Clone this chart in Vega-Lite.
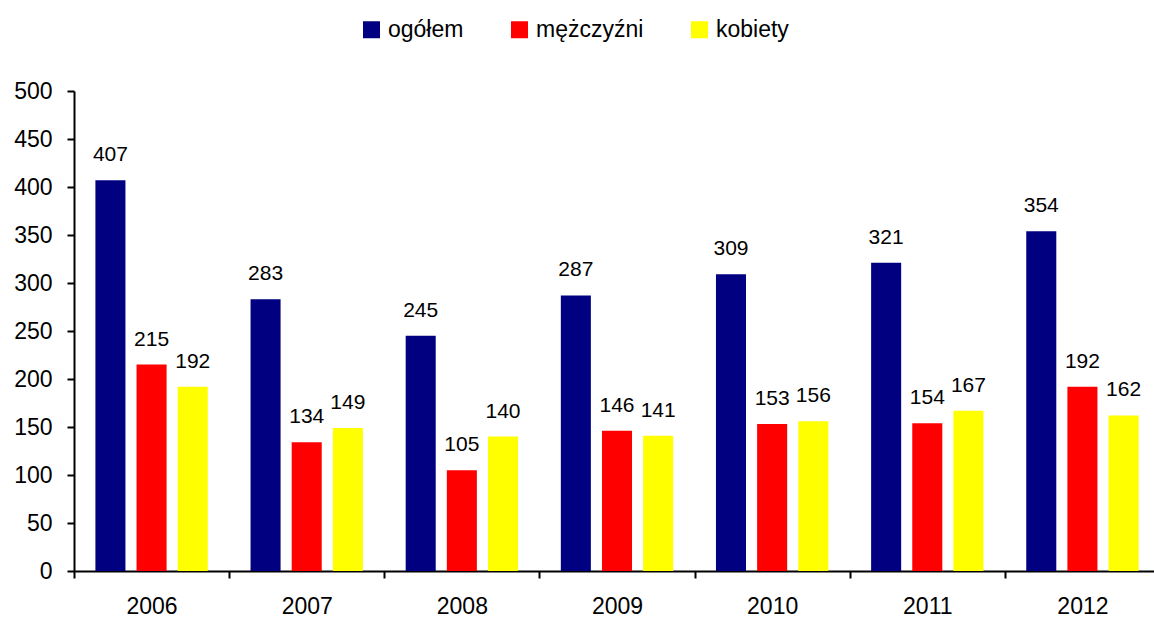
{
  "$schema": "https://vega.github.io/schema/vega-lite/v6.json",
  "width": 1086,
  "height": 480,
  "autosize": {"type": "none"},
  "padding": {"left": 74, "top": 91, "right": -6, "bottom": 48},
  "background": "white",
  "config": {
    "view": {"stroke": null},
    "font": "Liberation Sans",
    "axis": {"labelFont": "Liberation Sans", "labelColor": "black", "domainColor": "black", "tickColor": "black", "domainWidth": 2, "tickWidth": 2, "grid": false, "title": null}
  },
  "data": {
    "values": [
      {"rok": "2006", "grupa": "ogółem", "wartosc": 407},
      {"rok": "2006", "grupa": "mężczyźni", "wartosc": 215},
      {"rok": "2006", "grupa": "kobiety", "wartosc": 192},
      {"rok": "2007", "grupa": "ogółem", "wartosc": 283},
      {"rok": "2007", "grupa": "mężczyźni", "wartosc": 134},
      {"rok": "2007", "grupa": "kobiety", "wartosc": 149},
      {"rok": "2008", "grupa": "ogółem", "wartosc": 245},
      {"rok": "2008", "grupa": "mężczyźni", "wartosc": 105},
      {"rok": "2008", "grupa": "kobiety", "wartosc": 140},
      {"rok": "2009", "grupa": "ogółem", "wartosc": 287},
      {"rok": "2009", "grupa": "mężczyźni", "wartosc": 146},
      {"rok": "2009", "grupa": "kobiety", "wartosc": 141},
      {"rok": "2010", "grupa": "ogółem", "wartosc": 309},
      {"rok": "2010", "grupa": "mężczyźni", "wartosc": 153},
      {"rok": "2010", "grupa": "kobiety", "wartosc": 156},
      {"rok": "2011", "grupa": "ogółem", "wartosc": 321},
      {"rok": "2011", "grupa": "mężczyźni", "wartosc": 154},
      {"rok": "2011", "grupa": "kobiety", "wartosc": 167},
      {"rok": "2012", "grupa": "ogółem", "wartosc": 354},
      {"rok": "2012", "grupa": "mężczyźni", "wartosc": 192},
      {"rok": "2012", "grupa": "kobiety", "wartosc": 162}
    ]
  },
  "encoding": {
    "x": {
      "field": "rok", "type": "nominal",
      "scale": {"paddingInner": 0, "paddingOuter": 0},
      "axis": {"labelAngle": 0, "labelFontSize": 23, "tickSize": 7, "tickBand": "extent", "labelPadding": 17}
    },
    "xOffset": {
      "field": "grupa", "type": "nominal",
      "sort": ["ogółem", "mężczyźni", "kobiety"],
      "scale": {"paddingInner": 0.27, "paddingOuter": 0.52}
    },
    "y": {
      "field": "wartosc", "type": "quantitative",
      "scale": {"domain": [0, 500], "nice": false},
      "axis": {"values": [0, 50, 100, 150, 200, 250, 300, 350, 400, 450, 500], "labelFontSize": 23, "tickSize": 7, "labelPadding": 15}
    }
  },
  "layer": [
    {
      "mark": {"type": "bar"},
      "encoding": {
        "color": {
          "field": "grupa", "type": "nominal",
          "sort": ["ogółem", "mężczyźni", "kobiety"],
          "scale": {"domain": ["ogółem", "mężczyźni", "kobiety"], "range": ["#000080", "#FF0000", "#FFFF00"]},
          "legend": {
            "title": null, "orient": "none", "direction": "horizontal",
            "legendX": 286, "legendY": -73,
            "symbolType": "square", "symbolSize": 289, "symbolStrokeWidth": 0,
            "labelFontSize": 23, "labelFont": "Liberation Sans", "labelColor": "black",
            "labelOffset": 5, "columnPadding": 44
          }
        }
      }
    },
    {
      "mark": {"type": "text", "fontSize": 21, "dy": -19, "baseline": "alphabetic", "color": "black"},
      "encoding": {"text": {"field": "wartosc", "type": "quantitative"}}
    }
  ]
}
